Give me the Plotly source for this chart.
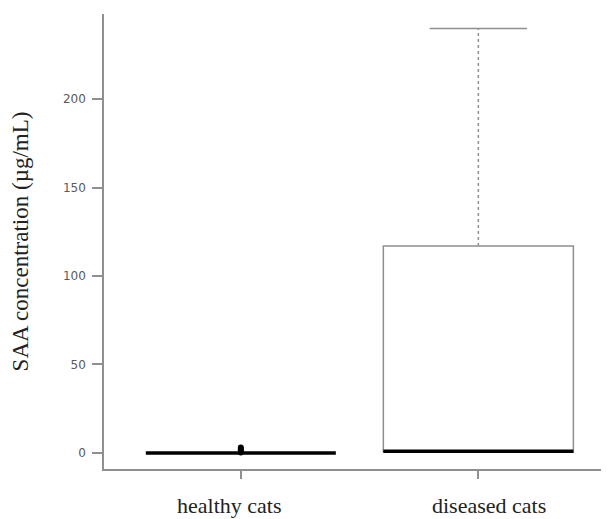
import plotly.graph_objects as go

# ---- data ----
categories = ["healthy cats", "diseased cats"]
lower_fence = [0.0, 0.0]
q1 = [0.0, 0.4]
median = [0.0, 1.0]
q3 = [0.0, 117.0]
upper_fence = [0.0, 240.0]
healthy_outliers = [0.3, 1.2, 2.1, 3.0]
outlier_group = [0, 0, 0, 0]
y_tick_vals = [0, 50, 100, 150, 200]
label_shift = [-12, 11]

BOX_W = 0.80
CAP_W = 0.41
GRAY = "#8f8f8f"

fig = go.Figure()
for i, name in enumerate(categories):
    xl, xr = i - BOX_W / 2, i + BOX_W / 2
    if q3[i] > q1[i]:
        fig.add_trace(go.Scatter(x=[xl, xr, xr, xl, xl],
                                 y=[q1[i], q1[i], q3[i], q3[i], q1[i]],
                                 mode="lines", line=dict(color=GRAY, width=1.5),
                                 hoverinfo="skip", showlegend=False))
    if upper_fence[i] > q3[i]:
        fig.add_trace(go.Scatter(x=[i, i], y=[q3[i], upper_fence[i]], mode="lines",
                                 line=dict(color=GRAY, width=1.5, dash="3px,3px"),
                                 hoverinfo="skip", showlegend=False))
        fig.add_trace(go.Scatter(x=[i - CAP_W / 2, i + CAP_W / 2],
                                 y=[upper_fence[i], upper_fence[i]], mode="lines",
                                 line=dict(color=GRAY, width=1.5),
                                 hoverinfo="skip", showlegend=False))
    fig.add_trace(go.Scatter(x=[xl, xr], y=[median[i], median[i]], mode="lines",
                             line=dict(color="black", width=3.5),
                             hoverinfo="skip", showlegend=False))
    # category label
    fig.add_annotation(x=i, y=0, xref="x", yref="paper", text=name,
                       showarrow=False, yanchor="top", yshift=-22,
                       xshift=label_shift[i],
                       font=dict(family="Liberation Serif", size=22, color="#222"))

fig.add_trace(go.Scatter(x=outlier_group, y=healthy_outliers, mode="markers",
                         marker=dict(color="black", size=6),
                         hoverinfo="skip", showlegend=False))

fig.update_layout(
    width=601, height=511,
    margin=dict(l=96, r=0, t=6, b=50),
    paper_bgcolor="white", plot_bgcolor="white",
    xaxis=dict(range=[-0.576, 1.55], tickvals=[0, 1], ticktext=["", ""],
               showline=True, linecolor=GRAY, linewidth=1.5,
               ticks="outside", ticklen=8, tickcolor=GRAY, tickwidth=1.5,
               showgrid=False, zeroline=False),
    yaxis=dict(range=[-9.1, 248.2], tickvals=y_tick_vals,
               showline=True, linecolor=GRAY, linewidth=1.5,
               ticks="outside", ticklen=10, tickcolor=GRAY, tickwidth=1.5,
               tickfont=dict(family="DejaVu Sans", size=12, color="#5a5a5a"),
               ticklabelstandoff=4,
               title=dict(text="SAA concentration (µg/mL)", standoff=34,
                          font=dict(family="Liberation Serif", size=23, color="#222")),
               showgrid=False, zeroline=False),
)

fig.write_html("out.html")
